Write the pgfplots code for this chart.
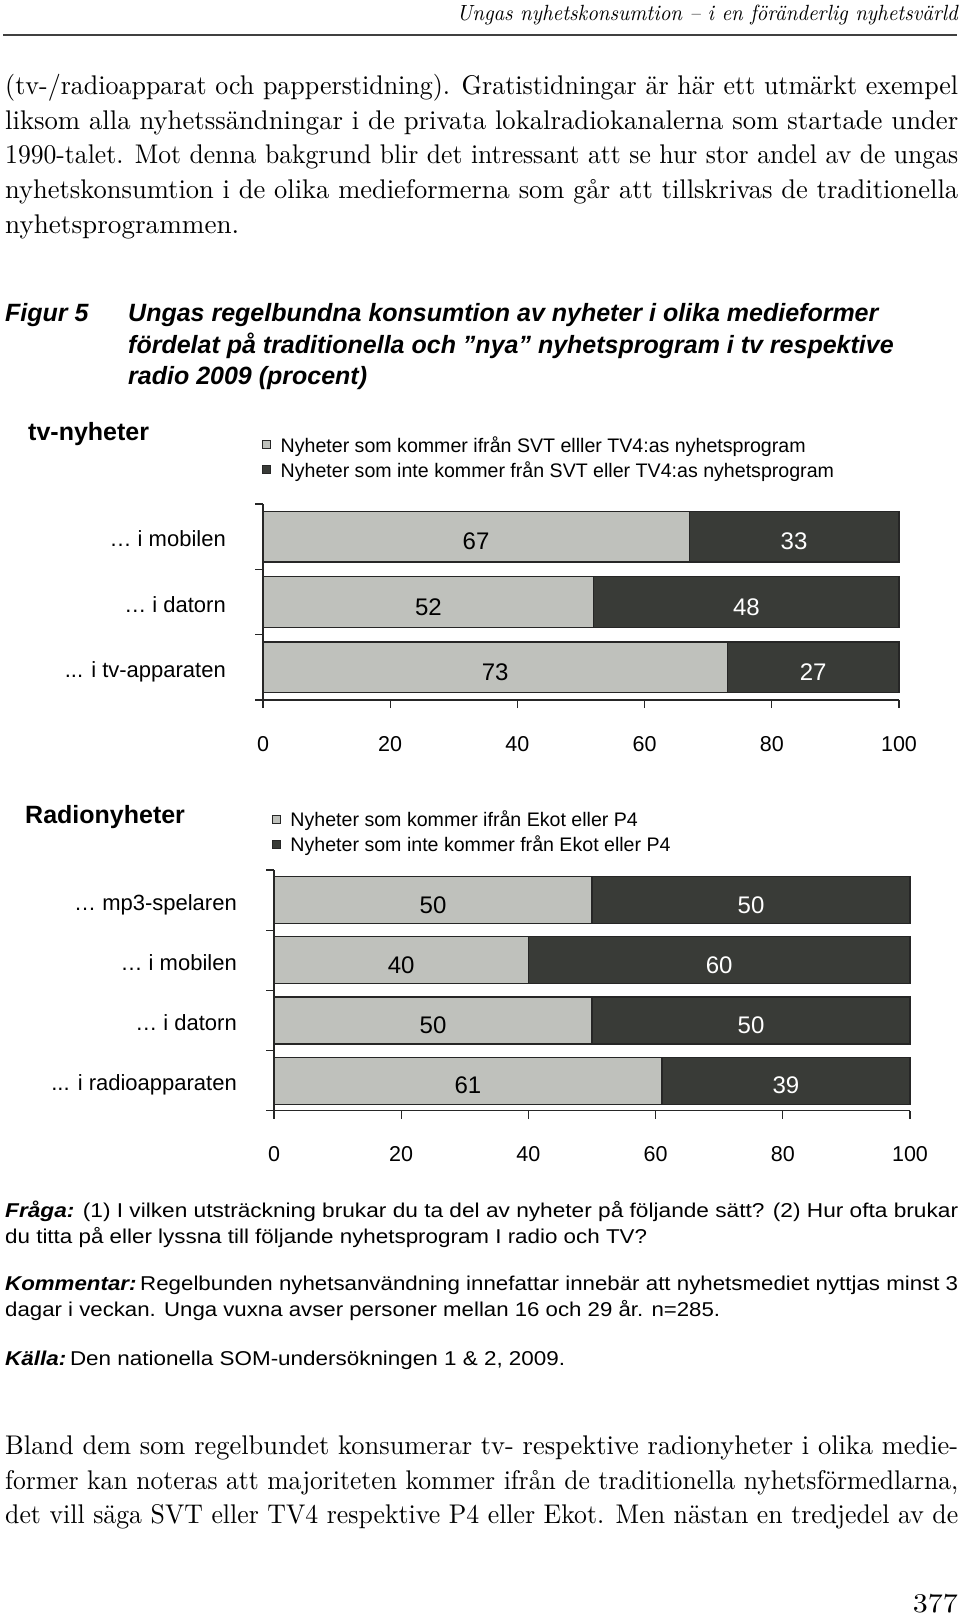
\documentclass[border=0pt]{standalone}
\usepackage{pgfplots}
\pgfplotsset{compat=1.18}
\usepackage{pgfplotstable}
\usepackage{fontspec}
\setsansfont{Liberation Sans}
\newfontfamily\bodyfam{lmroman10-regular}[Extension=.otf, ItalicFont=lmroman10-italic]
\usepackage{graphicx}

\definecolor{lightbar}{RGB}{191,193,188}
\definecolor{darkbar}{RGB}{57,59,55}
\definecolor{edge}{RGB}{38,38,38}

\newcommand\fitw[2]{\resizebox{#1}{\height}{#2}}
\newcommand\tdots{.{}.{}.}

\newcommand\tickf{\sffamily\fontsize{21.5}{25}\selectfont}
\newcommand\catf{\sffamily\fontsize{22}{26}\selectfont}
\newcommand\valf{\sffamily\fontsize{24}{28}\selectfont}
\newcommand\legf{\sffamily\fontsize{19.6}{23}\selectfont}
\newcommand\headf{\sffamily\bfseries\fontsize{25}{30}\selectfont}
\newcommand\titf{\sffamily\bfseries\itshape\fontsize{25}{31}\selectfont}
\newcommand\notef{\sffamily\fontsize{20}{26}\selectfont}
\newcommand\bodyf{\bodyfam\fontsize{27}{34.7}\selectfont}

\pgfplotstableread{
y a b
0 67 33
1 52 48
2 73 27
}\tvdata

\pgfplotstableread{
y a b
0 50 50
1 40 60
2 50 50
3 61 39
}\radiodata

\pgfplotsset{
  /pgf/number format/assume math mode=true,
  barchart/.style={
    scale only axis, xbar stacked, xmin=0, xmax=100, y dir=reverse,
    enlargelimits=false, clip=false,
    axis x line*=bottom, axis y line*=left,
    axis line style={line width=1.3pt, color=edge},
    tick align=outside,
    xtick={0,20,40,60,80,100},
    major tick length=8pt, minor tick length=8pt,
    every tick/.style={line width=1.3pt, color=edge},
    major y tick style={draw=none},
    xticklabel style={font=\tickf, anchor=base, inner sep=0pt, yshift=-43pt},
    yticklabel style={font=\catf, anchor=base east, inner sep=0pt, xshift=-29pt, yshift=-10pt},
    legend cell align=left,
    legend style={draw=none, fill=none, inner sep=0pt, outer sep=0pt, anchor=north west,
      font=\legf, row sep=7pt,
      nodes={inner sep=0pt, text height=14pt, text depth=4pt},
      /tikz/every odd column/.append style={column sep=10pt}},
    legend image code/.code={\draw[##1, line width=0.9pt] (0pt,-1.4pt) rectangle (8pt,6.6pt);},
  },
  labelaxis/.style={
    scale only axis, xmin=0, xmax=100, y dir=reverse, enlargelimits=false,
    clip=false, hide axis,
  },
  vallab/.style={draw=none, mark=none, nodes near coords, point meta=explicit,
    every node near coord/.append style={font=\valf, anchor=base, inner sep=0pt, yshift=-13pt, text=#1}},
}

\begin{document}
\begin{tikzpicture}
\useasboundingbox (0pt,0pt) rectangle (960pt,-1617pt);

% running head
\node[anchor=base east, inner sep=0pt, font={\bodyfam\fontsize{22}{25}\selectfont\itshape}] at (958pt,-20pt) {\fitw{501pt}{Ungas nyhetskonsumtion – i en föränderlig nyhetsvärld}};
\draw[line width=2.2pt, black!75] (3pt,-35pt) -- (957pt,-35pt);

% body text (top)
\begin{scope}[every node/.style={anchor=base west, inner sep=0pt, font=\bodyf}]
\node at (5pt,-94.3pt) {\fitw{953pt}{(tv-/radioapparat och papperstidning). Gratistidningar är här ett utmärkt exempel}};
\node at (5pt,-129pt) {\fitw{953pt}{liksom alla nyhetssändningar i de privata lokalradiokanalerna som startade under}};
\node at (5pt,-163.7pt) {\fitw{953pt}{1990-talet. Mot denna bakgrund blir det intressant att se hur stor andel av de ungas}};
\node at (5pt,-198.4pt) {\fitw{953pt}{nyhetskonsumtion i de olika medieformerna som går att tillskrivas de traditionella}};
\node at (5pt,-233.1pt) {\fitw{234pt}{nyhetsprogrammen.}};
\end{scope}

% figure title
\begin{scope}[every node/.style={anchor=base west, inner sep=0pt, font=\titf}]
\node at (5pt,-321.7pt) {Figur 5};
\node at (128pt,-321.7pt) {Ungas regelbundna konsumtion av nyheter i olika medieformer};
\node at (128pt,-353pt) {fördelat på traditionella och ”nya” nyhetsprogram i tv respektive};
\node at (128pt,-384.3pt) {radio 2009 (procent)};
\end{scope}

\node[anchor=base west, inner sep=0pt, font=\headf] at (28pt,-440pt) {tv-nyheter};
\node[anchor=base west, inner sep=0pt, font=\headf] at (25pt,-823pt) {Radionyheter};

% ---------- TV chart ----------
\begin{axis}[barchart,
  at={(263pt,-700pt)}, anchor=south west, width=636pt, height=196pt,
  bar width=50.5pt, ymin=-0.5, ymax=2.5,
  ytick={0,1,2}, yticklabels={{… i mobilen}, {… i datorn}, {\tdots{} i tv-apparaten}},
  minor ytick={-0.5,0.5,1.5,2.5},
  legend style={at={(-0.0019,1.3352)}},
]
\addplot[fill=lightbar, draw=edge, line width=1.2pt] table[x=a, y=y] {\tvdata};
\addlegendentry{Nyheter som kommer ifrån SVT elller TV4:as nyhetsprogram}
\addplot[fill=darkbar, draw=edge, line width=1.2pt] table[x=b, y=y] {\tvdata};
\addlegendentry{Nyheter som inte kommer från SVT eller TV4:as nyhetsprogram}
\end{axis}
\begin{axis}[labelaxis,
  at={(263pt,-700pt)}, anchor=south west, width=636pt, height=196pt,
  ymin=-0.5, ymax=2.5]
\addplot[vallab=black] table[x expr=\thisrow{a}/2, y=y, meta=a] {\tvdata};
\addplot[vallab=white] table[x expr=\thisrow{a}+\thisrow{b}/2, y=y, meta=b] {\tvdata};
\end{axis}

% ---------- Radio chart ----------
\begin{axis}[barchart,
  at={(274pt,-1110.7pt)}, anchor=south west, width=636pt, height=240.7pt,
  bar width=47pt, ymin=-0.5, ymax=3.5,
  ytick={0,1,2,3}, yticklabels={{… mp3-spelaren}, {… i mobilen}, {… i datorn}, {\tdots{} i radioapparaten}},
  minor ytick={-0.5,0.5,1.5,2.5,3.5},
  legend style={at={(-0.0038,1.238)}},
]
\addplot[fill=lightbar, draw=edge, line width=1.2pt] table[x=a, y=y] {\radiodata};
\addlegendentry{Nyheter som kommer ifrån Ekot eller P4}
\addplot[fill=darkbar, draw=edge, line width=1.2pt] table[x=b, y=y] {\radiodata};
\addlegendentry{Nyheter som inte kommer från Ekot eller P4}
\end{axis}
\begin{axis}[labelaxis,
  at={(274pt,-1110.7pt)}, anchor=south west, width=636pt, height=240.7pt,
  ymin=-0.5, ymax=3.5]
\addplot[vallab=black] table[x expr=\thisrow{a}/2, y=y, meta=a] {\radiodata};
\addplot[vallab=white] table[x expr=\thisrow{a}+\thisrow{b}/2, y=y, meta=b] {\radiodata};
\end{axis}

% notes
\begin{scope}[every node/.style={anchor=base west, inner sep=0pt, font=\notef}]
\node at (5pt,-1217pt) {\fitw{953pt}{\textbf{\textit{Fråga:}} (1) I vilken utsträckning brukar du ta del av nyheter på följande sätt? (2) Hur ofta brukar}};
\node at (5pt,-1243pt) {\fitw{642pt}{du titta på eller lyssna till följande nyhetsprogram I radio och TV?}};
\node at (5pt,-1290pt) {\fitw{953pt}{\textbf{\textit{Kommentar:}}\,Regelbunden nyhetsanvändning innefattar innebär att nyhetsmediet nyttjas minst 3}};
\node at (5pt,-1316.7pt) {\fitw{715pt}{dagar i veckan. Unga vuxna avser personer mellan 16 och 29 år. n=285.}};
\node at (5pt,-1365pt) {\fitw{560pt}{\textbf{\textit{Källa:}}\,Den nationella SOM-undersökningen 1 \& 2, 2009.}};
\end{scope}

% body text (bottom)
\begin{scope}[every node/.style={anchor=base west, inner sep=0pt, font=\bodyf}]
\node at (5pt,-1454.3pt) {\fitw{953pt}{Bland dem som regelbundet konsumerar tv- respektive radionyheter i olika medie-}};
\node at (5pt,-1489pt) {\fitw{953pt}{former kan noteras att majoriteten kommer ifrån de traditionella nyhetsförmedlarna,}};
\node at (5pt,-1523.3pt) {\fitw{953pt}{det vill säga SVT eller TV4 respektive P4 eller Ekot. Men nästan en tredjedel av de}};
\end{scope}
\node[anchor=base east, inner sep=0pt, font=\bodyf] at (958pt,-1612pt) {\fitw{45pt}{377}};

\end{tikzpicture}
\end{document}
